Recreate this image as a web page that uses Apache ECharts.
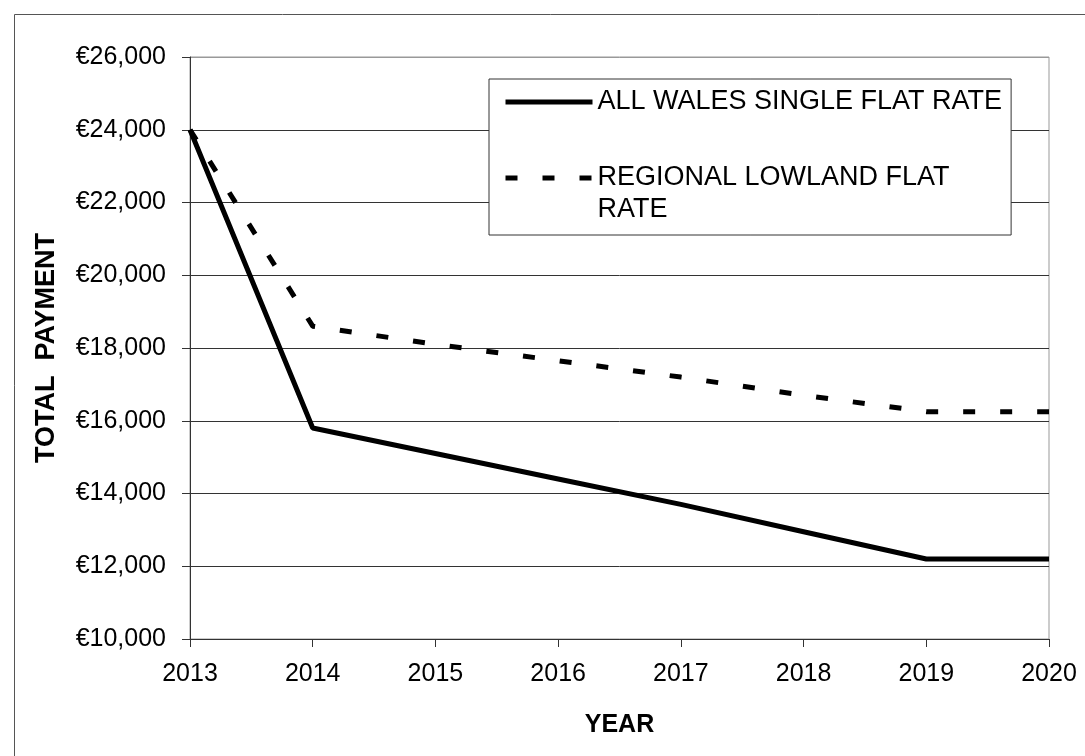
<!DOCTYPE html>
<html>
<head>
<meta charset="utf-8">
<script src="https://cdn.jsdelivr.net/npm/echarts@6/dist/echarts.min.js"></script>
<style>
  html, body { margin: 0; padding: 0; background: #fff; }
  #chart { width: 1085px; height: 756px; }
</style>
</head>
<body>
<div id="chart"></div>
<script>
var years = ['2013', '2014', '2015', '2016', '2017', '2018', '2019', '2020'];
var allWales = [24000, 15800, 15100, 14400, 13700, 12950, 12200, 12200];
var regionalLowland = [24000, 18600, 18100, 17650, 17200, 16700, 16250, 16250];
var seriesNames = ['ALL WALES SINGLE FLAT RATE', 'REGIONAL LOWLAND FLAT RATE'];

var font = "'Liberation Sans', Arial, sans-serif";

var chart = echarts.init(document.getElementById('chart'));

chart.setOption({
    animation: false,
    textStyle: { fontFamily: font },
    graphic: [{
        type: 'rect',
        left: 12, top: 12,
        shape: { width: 1200, height: 900 },
        style: { fill: 'none', stroke: '#555', lineWidth: 1 },
        silent: true
    }],
    grid: {
        left: 190, right: 36, top: 57, bottom: 117,
        show: true, borderColor: '#999', borderWidth: 1
    },
    legend: {
        orient: 'vertical',
        left: 489, top: 79,
        padding: [7, 9, 9, 14],
        itemGap: 12,
        itemWidth: 87,
        itemHeight: 14,
        backgroundColor: '#fff',
        borderColor: '#333',
        borderWidth: 1,
        itemStyle: { opacity: 0 },
        lineStyle: { width: 5 },
        textStyle: { fontSize: 27, color: '#000', fontFamily: font, lineHeight: 32 },
        formatter: function (name) {
            // second entry wraps; a blank first line keeps the icon level with the first text line
            return name === seriesNames[1] ? '\nREGIONAL LOWLAND FLAT\nRATE' : name;
        },
        data: seriesNames
    },
    xAxis: {
        type: 'category',
        data: years,
        boundaryGap: false,
        name: 'YEAR',
        nameLocation: 'middle',
        nameGap: 74,
        nameTextStyle: { fontSize: 25, fontWeight: 'bold', color: '#000', fontFamily: font },
        axisLine: { lineStyle: { color: '#333', width: 1 } },
        axisTick: { length: 8, lineStyle: { color: '#333' } },
        axisLabel: { fontSize: 25, color: '#000', margin: 23, fontFamily: font }
    },
    yAxis: {
        type: 'value',
        min: 10000, max: 26000, interval: 2000,
        name: 'TOTAL  PAYMENT',
        nameLocation: 'middle',
        nameGap: 130,
        nameTextStyle: { fontSize: 27, fontWeight: 'bold', color: '#000', fontFamily: font },
        axisLine: { show: true, lineStyle: { color: '#333', width: 1 } },
        axisTick: { show: true, length: 8, lineStyle: { color: '#333' } },
        axisLabel: {
            fontSize: 25, color: '#000', margin: 24, fontFamily: font,
            formatter: function (v) { return '€' + v.toLocaleString('en-US'); }
        },
        splitLine: {
            lineStyle: {
                color: ['#333', '#333', '#333', '#333', '#333', '#333', '#333', '#333', '#999'],
                width: 1
            }
        }
    },
    series: [
        {
            name: seriesNames[1],
            type: 'line',
            data: regionalLowland,
            symbol: 'none',
            lineStyle: { color: '#000', width: 5, type: [12, 25] },
            itemStyle: { color: '#000' }
        },
        {
            name: seriesNames[0],
            type: 'line',
            data: allWales,
            symbol: 'none',
            lineStyle: { color: '#000', width: 5, type: 'solid' },
            itemStyle: { color: '#000' }
        }
    ]
});
</script>
</body>
</html>
